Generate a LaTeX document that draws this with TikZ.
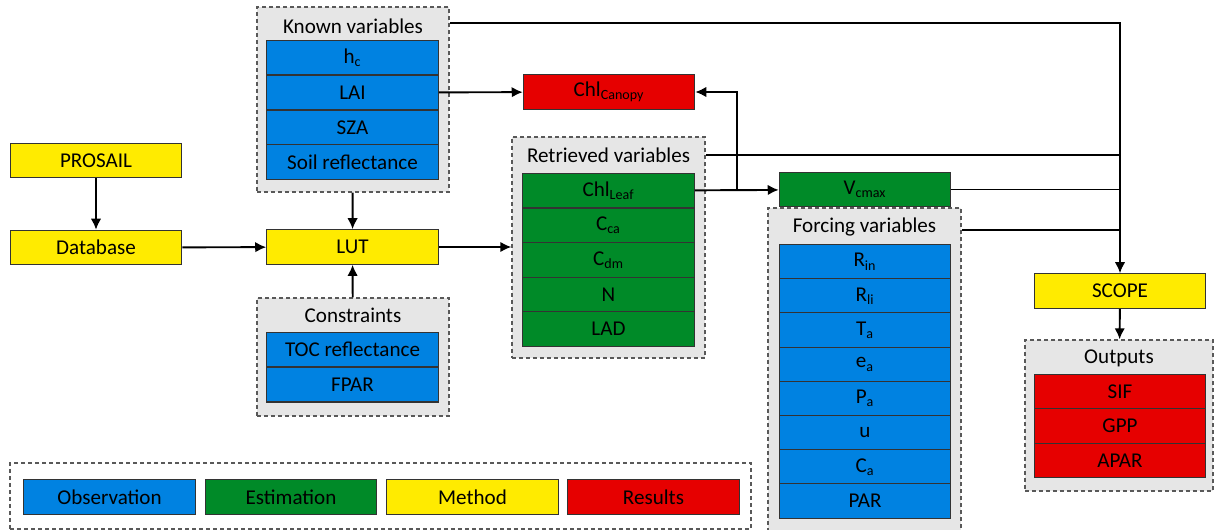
\documentclass[tikz,border=0pt]{standalone}
\usepackage{fontspec}
\setmainfont{Carlito}
\usepackage{tikz}
\usetikzlibrary{positioning, arrows.meta}

\definecolor{obsblue}{RGB}{0,130,225}
\definecolor{estgreen}{RGB}{0,138,40}
\definecolor{methyellow}{RGB}{255,235,0}
\definecolor{resred}{RGB}{230,0,0}
\definecolor{grpgray}{RGB}{230,230,230}

\begin{document}
\begin{tikzpicture}[x=0.02cm, y=-0.02cm, font=\fontsize{12}{14}\selectfont,
  blk/.style={draw=black!80, line width=0.6pt, minimum width=3.43cm, minimum height=0.69cm, inner sep=0pt},
  cell/.style={blk, anchor=north},
  group/.style={draw=black!65, fill=grpgray, line width=0.8pt, dash pattern=on 0.8mm off 0.6mm, inner sep=0pt},
  link/.style={line width=1.1pt},
  conn/.style={link, -{Latex[length=2.2mm,width=2.1mm]}}]
\useasboundingbox (0,0) rectangle (1214,530);

% --- Dashed groups ---
\node[group, minimum width=3.84cm, minimum height=3.70cm] (known) at (353,99.5) {};
\node[group, minimum width=3.84cm, minimum height=2.36cm] (cons) at (353,357) {};
\node[group, minimum width=3.86cm, minimum height=4.42cm] (retr) at (608.5,247.5) {};
\node[group, minimum width=3.86cm, minimum height=6.74cm] (forc) at (864.5,376.5) {};
\node[group, minimum width=3.76cm, minimum height=3.02cm] (outp) at (1119,415.5) {};
\node[group, fill=none, minimum width=14.82cm, minimum height=1.32cm] (legend) at (380.5,496) {};

% --- Group titles ---
\node (knownT) at (353,26) {Known variables};
\node (consT) at (353,315) {Constraints};
\node (retrT) at (608.5,155) {Retrieved variables};
\node (forcT) at (864.5,227) {Forcing variables};
\node (outpT) at (1119,358) {Outputs};

% --- Rows inside groups ---
\foreach \i/\txt in {0/h\textsubscript{c}, 1/LAI, 2/SZA, 3/Soil reflectance}
  \node[cell, fill=obsblue] (kv\i) at (352.5,40+\i*34.75) {\txt};
\foreach \i/\txt in {0/TOC reflectance, 1/FPAR}
  \node[cell, fill=obsblue] (cv\i) at (352.5,332+\i*35) {\txt};
\foreach \i/\txt in {0/Chl\textsubscript{Leaf}, 1/C\textsubscript{ca}, 2/C\textsubscript{dm}, 3/N, 4/LAD}
  \node[cell, fill=estgreen] (rv\i) at (608.5,173+\i*34.6) {\txt};
\foreach \i/\txt in {0/R\textsubscript{in}, 1/R\textsubscript{li}, 2/T\textsubscript{a}, 3/e\textsubscript{a},
                     4/P\textsubscript{a}, 5/u, 6/C\textsubscript{a}, 7/PAR}
  \node[cell, fill=obsblue] (fv\i) at (865,244+\i*34.2) {\txt};
\foreach \i/\txt in {0/SIF, 1/GPP, 2/APAR}
  \node[cell, fill=resred] (ov\i) at (1120,374+\i*34.3) {\txt};

% --- Single blocks ---
\node[blk, fill=methyellow] (prosail) at (96,160.5) {PROSAIL};
\node[blk, fill=methyellow] (dbase) at (96,247.5) {Database};
\node[blk, fill=methyellow] (lut) at (352.5,247) {LUT};
\node[blk, fill=resred] (chlc) at (609,92) {Chl\textsubscript{Canopy}};
\node[blk, fill=estgreen] (vcmax) at (865,189.5) {V\textsubscript{cmax}};
\node[blk, fill=methyellow] (scope) at (1120,291) {SCOPE};

% --- Legend ---
\node[blk, fill=obsblue] (lobs) at (109.5,497) {Observation};
\node[blk, fill=estgreen] (lest) at (291,497) {Estimation};
\node[blk, fill=methyellow] (lmeth) at (472.5,497) {Method};
\node[blk, fill=resred] (lres) at (653.5,497) {Results};

% --- Connectors ---
\coordinate (trunk) at (1120,23);
\coordinate (split) at (737,0);
\draw[conn] (prosail) -- (dbase);
\draw[conn] (dbase) -- (lut);
\draw[conn] (known) -- (lut);
\draw[conn] (cons) -- (lut);
\draw[conn] (lut) -- (lut -| retr.west);
\draw[conn] (kv1) -- (chlc);
\draw[conn] (rv0) -- (vcmax);
\draw[conn] (split |- rv0) -- (split |- chlc) -- (chlc);
\draw[conn] (known.east |- trunk) -- (trunk) -- (scope);
\draw[link] (retr.east |- retrT) -- (trunk |- retrT);
\draw[link] (vcmax) -- (trunk |- vcmax);
\draw[link] (forc.east |- 0,230) -- (trunk |- 0,230);
\draw[conn] (scope) -- (outp);
\end{tikzpicture}
\end{document}
